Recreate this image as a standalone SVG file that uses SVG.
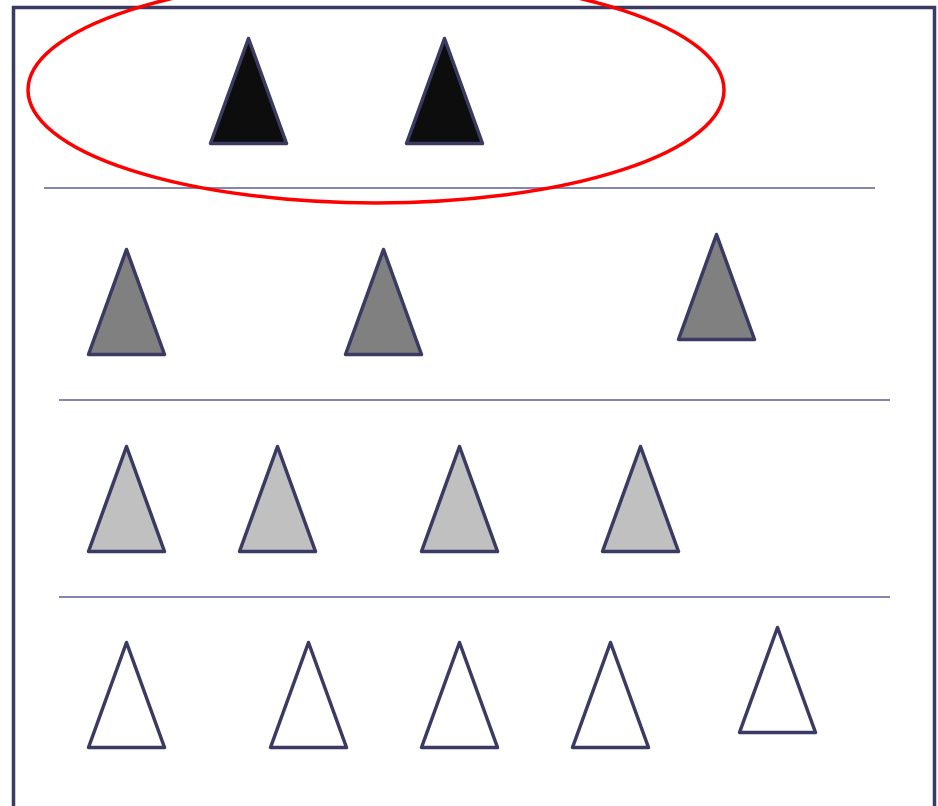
<svg xmlns="http://www.w3.org/2000/svg" width="938" height="806" viewBox="0 0 938 806">
<defs>
<style>
.tri{stroke:#3b3a63;stroke-width:3.5;stroke-linejoin:round}
.k{fill:#0d0d0d}.g{fill:#808080}.l{fill:#c0c0c0}.w{fill:#ffffff}
.div{stroke:#5c5c96;stroke-width:1.5}
</style>
<path id="t" d="M0,0 L38,105 L-38,105 Z"/>
</defs>
<rect x="0" y="0" width="938" height="806" fill="#ffffff"/>
<rect id="frame" x="13.5" y="7.5" width="921" height="820" fill="none" stroke="#3b3a63" stroke-width="3.5"/>
<g id="dividers">
<line class="div" x1="44" y1="188" x2="875" y2="188"/>
<line class="div" x1="59" y1="400" x2="890" y2="400"/>
<line class="div" x1="59" y1="597" x2="890" y2="597"/>
</g>
<g id="row1">
<use href="#t" class="tri k" x="248.5" y="38.5"/>
<use href="#t" class="tri k" x="444.5" y="38.5"/>
</g>
<g id="row2">
<use href="#t" class="tri g" x="126.5" y="249.5"/>
<use href="#t" class="tri g" x="383.5" y="249.5"/>
<use href="#t" class="tri g" x="716.5" y="234.5"/>
</g>
<g id="row3">
<use href="#t" class="tri l" x="126.5" y="446.5"/>
<use href="#t" class="tri l" x="277.5" y="446.5"/>
<use href="#t" class="tri l" x="459.5" y="446.5"/>
<use href="#t" class="tri l" x="640.5" y="446.5"/>
</g>
<g id="row4">
<use href="#t" class="tri w" x="126.5" y="642.5"/>
<use href="#t" class="tri w" x="308.5" y="642.5"/>
<use href="#t" class="tri w" x="459.5" y="642.5"/>
<use href="#t" class="tri w" x="610.5" y="642.5"/>
<use href="#t" class="tri w" x="777.5" y="627.5"/>
</g>
<ellipse id="highlight" cx="376" cy="90" rx="348" ry="113" fill="none" stroke="#ff0000" stroke-width="3.5"/>
</svg>
